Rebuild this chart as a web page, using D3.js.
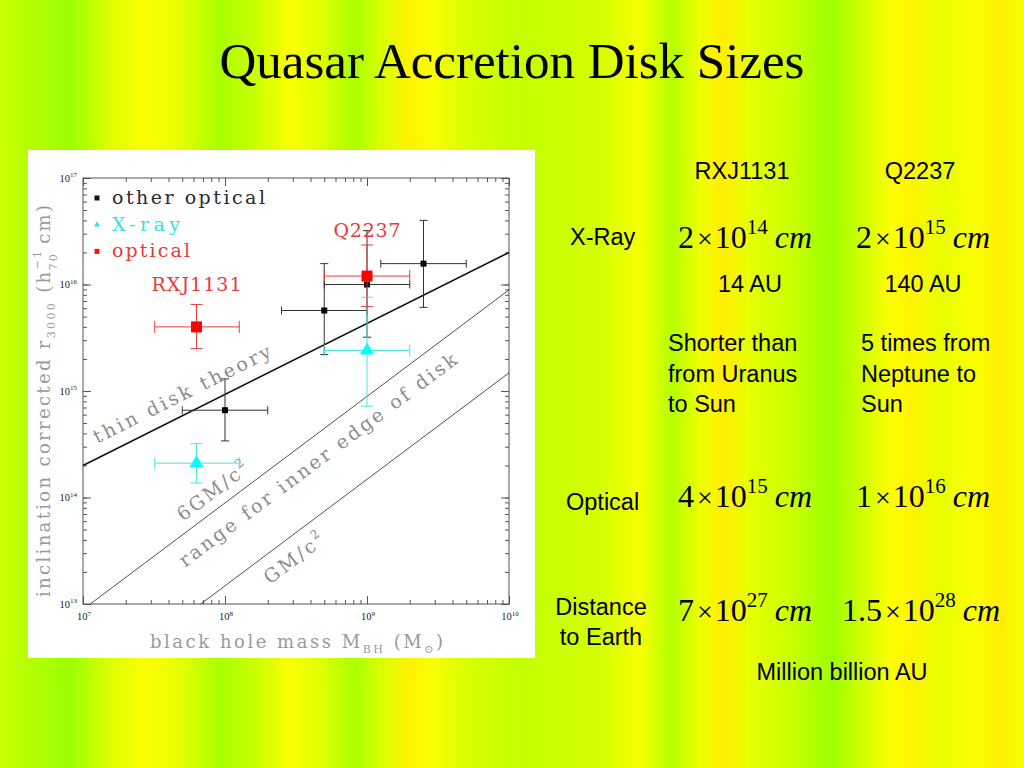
<!DOCTYPE html>
<html>
<head>
<meta charset="utf-8">
<script src="https://cdn.jsdelivr.net/npm/d3@7/dist/d3.min.js"></script>
<style>
  html, body { margin: 0; padding: 0; background: #e0ff00; }
  svg { display: block; }
</style>
</head>
<body>
<svg id="chart" width="1024" height="768"></svg>
<script>
// ---------------- DATA ----------------
const massDomain = [1e7, 1e10];
const radiusDomain = [1e13, 1e17];

const otherOptical = [
  { m: 1e8,   r: 6.6e14,  mLo: 5e7,    mHi: 2e8,  rLo: 3.4e14, rHi: 1.3e15 },
  { m: 5e8,   r: 5.7e15,  mLo: 2.5e8,  mHi: 1e9,  rLo: 2.2e15, rHi: 1.57e16 },
  { m: 1e9,   r: 1.0e16,  mLo: 5e8,    mHi: 2e9,  rLo: 3.2e15, rHi: 3.2e16 },
  { m: 2.5e9, r: 1.57e16, mLo: 1.25e9, mHi: 5e9,  rLo: 6.1e15, rHi: 4.0e16 }
];
const xrayPoints = [
  { name: "RXJ1131", m: 6.3e7, r: 2.1e14, mLo: 3.2e7, mHi: 1.26e8, rLo: 1.37e14, rHi: 3.2e14 },
  { name: "Q2237",   m: 1e9,   r: 2.4e15, mLo: 5e8,   mHi: 2e9,    rLo: 7.2e14,  rHi: 7.6e15 }
];
const opticalPoints = [
  { name: "RXJ1131", m: 6.3e7, r: 4.0e15, mLo: 3.2e7, mHi: 1.26e8, rLo: 2.5e15, rHi: 6.5e15 },
  { name: "Q2237",   m: 1e9,   r: 1.2e16, mLo: 5e8,   mHi: 2e9,    rLo: 6.2e15, rHi: 2.35e16 }
];
const pointLabels = [
  { text: "RXJ1131", m: 6.3e7, r: 8.6e15, len: 90 },
  { text: "Q2237",   m: 1e9,   r: 2.81e16, len: 67 }
];
const thinDisk = [{ m: 1e7, r: 2e14 }, { m: 1e10, r: 2e16 }];
const sixGM    = [{ m: 1.125e7, r: 1e13 }, { m: 1e10, r: 8.9e15 }];
const oneGM    = [{ m: 6.75e7, r: 1e13 }, { m: 1e10, r: 1.48e15 }];
const lineLabels = [
  { text: "thin disk theory", line: thinDisk, m: 1.26e7, r: 3.2e14, len: 196 },
  { text: "6GM/c", sup: "2", line: sixGM, m: 5.06e7, r: 5.93e13, len: 84 },
  { text: "range for inner edge of disk", line: sixGM, m: 5.22e7, r: 2.19e13, len: 342 },
  { text: "GM/c", sup: "2", line: oneGM, m: 2.07e8, r: 1.52e13, len: 70 }
];
const legendItems = [
  { text: "other optical", color: "#111111", text_color: "#2a2a2a", shape: "square", len: 153 },
  { text: "X-ray", color: "#22e8e8", text_color: "#36e2e2", shape: "triangle", len: 68 },
  { text: "optical", color: "#ff1010", text_color: "#e63a3a", shape: "square", len: 78 }
];
const majorTicksX = [1e7, 1e8, 1e9, 1e10];
const majorTicksY = [1e13, 1e14, 1e15, 1e16, 1e17];

// table on the right
const tableCols = ["RXJ1131", "Q2237"];
const xraySizes = [{ m: "2", e: "14" }, { m: "2", e: "15" }];
const auNotes = ["14 AU", "140 AU"];
const comparisons = [["Shorter than", "from Uranus", "to Sun"], ["5 times from", "Neptune to", "Sun"]];
const opticalSizes = [{ m: "4", e: "15" }, { m: "1", e: "16" }];
const distances = [{ m: "7", e: "27" }, { m: "1.5", e: "28" }];

// background stripes (x position -> colour)
const stripeStops = [
  [0, "#c8ff00"], [30, "#b4ff00"], [70, "#9cff00"], [110, "#dcff00"], [145, "#fcff00"],
  [180, "#e6ff00"], [220, "#a8ff00"], [260, "#d0ff00"], [290, "#fcff00"], [320, "#e0ff00"],
  [355, "#aaff00"], [380, "#d8ff00"], [410, "#fff200"], [432, "#f8ff00"], [470, "#d8ff00"],
  [520, "#c4ff00"], [548, "#c8ff00"], [600, "#d4ff00"], [640, "#f8ff00"], [672, "#b4ff00"],
  [700, "#eeff00"], [722, "#ffee00"], [748, "#e8ff00"], [790, "#ccff00"], [832, "#9cff00"],
  [862, "#d0ff00"], [890, "#fcff00"], [912, "#fff400"], [942, "#e8ff00"], [975, "#fcff00"],
  [1000, "#ffee00"], [1024, "#f0ff00"]
];

// ---------------- DRAW ----------------
const svg = d3.select("#chart");
const W = 1024, H = 768;
const defs = svg.append("defs");
const grad = defs.append("linearGradient").attr("id", "bg")
  .attr("x1", 0).attr("x2", 1).attr("y1", 0).attr("y2", 0);
stripeStops.forEach(([p, c]) => grad.append("stop").attr("offset", (p / W)).attr("stop-color", c));
svg.append("rect").attr("width", W).attr("height", H).attr("fill", "url(#bg)");

// fit a text element's total advance to a target length via letter-spacing
function fitSpacing(t, target) {
  t.attr("letter-spacing", 0);
  const node = t.node();
  const w0 = node.getComputedTextLength();
  const n = node.getNumberOfChars();
  if (n > 1) t.attr("letter-spacing", ((target - w0) / (n - 1)).toFixed(3));
}

// title
svg.append("text").attr("x", 512).attr("y", 78).attr("text-anchor", "middle")
  .attr("font-family", "Liberation Serif, Times New Roman, serif").attr("font-size", 51)
  .attr("fill", "#000").text("Quasar Accretion Disk Sizes");

// plot panel
svg.append("rect").attr("x", 28).attr("y", 150).attr("width", 507).attr("height", 508).attr("fill", "#ffffff");

const L = 83, R = 509, T = 178, B = 604;
const x = d3.scaleLog().domain(massDomain).range([L, R]);
const y = d3.scaleLog().domain(radiusDomain).range([B, T]);
const plotFont = "DejaVu Serif, Liberation Serif, serif";
const axisColor = "#555";

const g = svg.append("g");

function styleAxis(sel) {
  sel.select(".domain").remove();
  sel.selectAll("line").attr("stroke", axisColor).attr("stroke-width", 1);
  sel.selectAll("text").remove();
}
const minorX = x.ticks();
const minorY = y.ticks();
g.append("g").attr("transform", `translate(0,${B})`).call(d3.axisBottom(x).tickValues(minorX).tickSize(-4)).call(styleAxis);
g.append("g").attr("transform", `translate(0,${T})`).call(d3.axisTop(x).tickValues(minorX).tickSize(-4)).call(styleAxis);
g.append("g").attr("transform", `translate(${L},0)`).call(d3.axisLeft(y).tickValues(minorY).tickSize(-4)).call(styleAxis);
g.append("g").attr("transform", `translate(${R},0)`).call(d3.axisRight(y).tickValues(minorY).tickSize(-4)).call(styleAxis);
g.append("g").attr("transform", `translate(0,${B})`).call(d3.axisBottom(x).tickValues(majorTicksX).tickSize(-8)).call(styleAxis);
g.append("g").attr("transform", `translate(0,${T})`).call(d3.axisTop(x).tickValues(majorTicksX).tickSize(-8)).call(styleAxis);
g.append("g").attr("transform", `translate(${L},0)`).call(d3.axisLeft(y).tickValues(majorTicksY).tickSize(-8)).call(styleAxis);
g.append("g").attr("transform", `translate(${R},0)`).call(d3.axisRight(y).tickValues(majorTicksY).tickSize(-8)).call(styleAxis);

g.append("rect").attr("x", L).attr("y", T).attr("width", R - L).attr("height", B - T)
  .attr("fill", "none").attr("stroke", axisColor).attr("stroke-width", 1);

function powLabel(parent, px, py, v, anchor) {
  const e = Math.round(Math.log10(v));
  const t = parent.append("text").attr("x", px).attr("y", py).attr("text-anchor", anchor)
    .attr("font-family", "Liberation Serif, serif").attr("font-size", 10.5).attr("fill", "#222");
  t.append("tspan").text("10");
  t.append("tspan").attr("dy", -4.5).attr("font-size", 7).text(e);
}
majorTicksX.forEach(v => powLabel(g, x(v) + 1, B + 16, v, "middle"));
majorTicksY.forEach(v => powLabel(g, L - 6, y(v) + 3.5, v, "end"));

// theory lines
const lineGen = d3.line().x(d => x(d.m)).y(d => y(d.r));
g.append("path").attr("d", lineGen(thinDisk)).attr("stroke", "#111").attr("stroke-width", 1.6).attr("fill", "none");
g.append("path").attr("d", lineGen(sixGM)).attr("stroke", "#222").attr("stroke-width", 0.8).attr("fill", "none");
g.append("path").attr("d", lineGen(oneGM)).attr("stroke", "#222").attr("stroke-width", 0.8).attr("fill", "none");

// line labels
lineLabels.forEach(lb => {
  const a = lb.line[0], b = lb.line[1];
  const ang = Math.atan2(y(b.r) - y(a.r), x(b.m) - x(a.m)) * 180 / Math.PI;
  const px = x(lb.m), py = y(lb.r);
  const t = g.append("text").attr("transform", `translate(${px},${py}) rotate(${ang})`)
    .attr("font-family", plotFont).attr("font-size", 19).attr("fill", "#8c8c8c");
  t.append("tspan").text(lb.text);
  if (lb.sup) t.append("tspan").attr("dy", -9).attr("font-size", 12).text(lb.sup);
  fitSpacing(t, lb.len);
});

// error bars + markers
function drawSeries(data, color, barColor, cap, shape, size) {
  const s = g.append("g");
  data.forEach(d => {
    const cx = x(d.m), cy = y(d.r);
    s.append("line").attr("x1", x(d.mLo)).attr("x2", x(d.mHi)).attr("y1", cy).attr("y2", cy).attr("stroke", barColor);
    s.append("line").attr("x1", cx).attr("x2", cx).attr("y1", y(d.rLo)).attr("y2", y(d.rHi)).attr("stroke", barColor);
    [d.mLo, d.mHi].forEach(v => s.append("line").attr("x1", x(v)).attr("x2", x(v)).attr("y1", cy - cap).attr("y2", cy + cap).attr("stroke", barColor));
    [d.rLo, d.rHi].forEach(v => s.append("line").attr("x1", cx - cap).attr("x2", cx + cap).attr("y1", y(v)).attr("y2", y(v)).attr("stroke", barColor));
  });
  data.forEach(d => {
    const cx = x(d.m), cy = y(d.r);
    if (shape === "square") {
      s.append("rect").attr("x", cx - size / 2).attr("y", cy - size / 2).attr("width", size).attr("height", size).attr("fill", color);
    } else {
      s.append("path").attr("d", d3.symbol(d3.symbolTriangle, size * size * 0.5)()).attr("transform", `translate(${cx},${cy})`).attr("fill", color);
    }
  });
}
drawSeries(otherOptical, "#000", "#333", 4, "square", 6);
drawSeries(xrayPoints, "#00ffff", "#4ce6e6", 6, "triangle", 13);
drawSeries(opticalPoints, "#ff0000", "#ec3a3a", 6, "square", 11);

// point labels
pointLabels.forEach(p => {
  const t = g.append("text").attr("x", x(p.m) - p.len / 2).attr("y", y(p.r))
    .attr("font-family", plotFont).attr("font-size", 19).attr("fill", "#e63a3a").text(p.text);
  fitSpacing(t, p.len);
});

// legend
legendItems.forEach((it, i) => {
  const ly = 204 + i * 26.7;
  const my = ly - 6;
  if (it.shape === "square") {
    g.append("rect").attr("x", 97 - 2.5).attr("y", my - 2.5).attr("width", 5).attr("height", 5).attr("fill", it.color);
  } else {
    g.append("path").attr("d", d3.symbol(d3.symbolTriangle, 16)()).attr("transform", `translate(97,${my})`).attr("fill", it.color);
  }
  const t = g.append("text").attr("x", 112).attr("y", ly).attr("font-family", plotFont).attr("font-size", 19)
    .attr("fill", it.text_color).text(it.text);
  fitSpacing(t, it.len);
});

// axis titles
const xt = g.append("text").attr("x", 150).attr("y", 648).attr("font-family", plotFont)
  .attr("font-size", 18).attr("fill", "#9a9a9a");
xt.append("tspan").text("black hole mass M");
xt.append("tspan").attr("dy", 5).attr("font-size", 11).text("BH");
xt.append("tspan").attr("dy", -5).text(" (M");
xt.append("tspan").attr("dy", 5).attr("font-size", 11).text("\u2299");
xt.append("tspan").attr("dy", -5).text(")");
fitSpacing(xt, 293);

const yt = g.append("text").attr("transform", "translate(50,597) rotate(-90)").attr("font-family", plotFont)
  .attr("font-size", 18).attr("fill", "#9a9a9a");
yt.append("tspan").text("inclination corrected r");
yt.append("tspan").attr("dy", 5).attr("font-size", 11).text("3000");
yt.append("tspan").attr("dy", -5).text(" (h");
yt.append("tspan").attr("dy", -9).attr("font-size", 11).text("\u22121");
yt.append("tspan").attr("dx", -22).attr("dy", 16).attr("font-size", 11).text("70");
yt.append("tspan").attr("dy", -7).text(" cm)");
fitSpacing(yt, 414);

// ---------------- table text ----------------
const sans = "Liberation Sans, Arial, sans-serif";
const serif = "Liberation Serif, Times New Roman, serif";
const colCenters = [745, 923];
function plainText(px, py, txt, anchor) {
  svg.append("text").attr("x", px).attr("y", py).attr("text-anchor", anchor || "start")
    .attr("font-family", sans).attr("font-size", 23.5).attr("fill", "#000").text(txt);
}
function sciText(cx, py, v) {
  const t = svg.append("text").attr("x", cx).attr("y", py).attr("text-anchor", "middle")
    .attr("font-family", serif).attr("font-size", 32).attr("fill", "#000");
  t.append("tspan").text(v.m);
  t.append("tspan").attr("dx", 3).attr("font-size", 28).text("\u00d7");
  t.append("tspan").attr("dx", 2).text("10");
  t.append("tspan").attr("dy", -14).attr("font-size", 21).text(v.e);
  t.append("tspan").attr("dy", 14).attr("dx", 7).attr("font-style", "italic").text("cm");
}
tableCols.forEach((c, i) => plainText(colCenters[i] - 3, 179, c, "middle"));
plainText(570, 245, "X-Ray");
xraySizes.forEach((v, i) => sciText(colCenters[i], 248, v));
auNotes.forEach((a, i) => plainText(colCenters[i] + 5 - i * 5, 292, a, "middle"));
comparisons.forEach((lines, i) => lines.forEach((ln, j) => plainText([668, 861][i], 351 + j * 30.5, ln)));
plainText(566, 510, "Optical");
opticalSizes.forEach((v, i) => sciText(colCenters[i], 507, v));
plainText(601, 615, "Distance", "middle");
plainText(601, 645, "to Earth", "middle");
distances.forEach((v, i) => sciText(colCenters[i] - i * 2, 621, v));
plainText(842, 680, "Million billion AU", "middle");
</script>
</body>
</html>
